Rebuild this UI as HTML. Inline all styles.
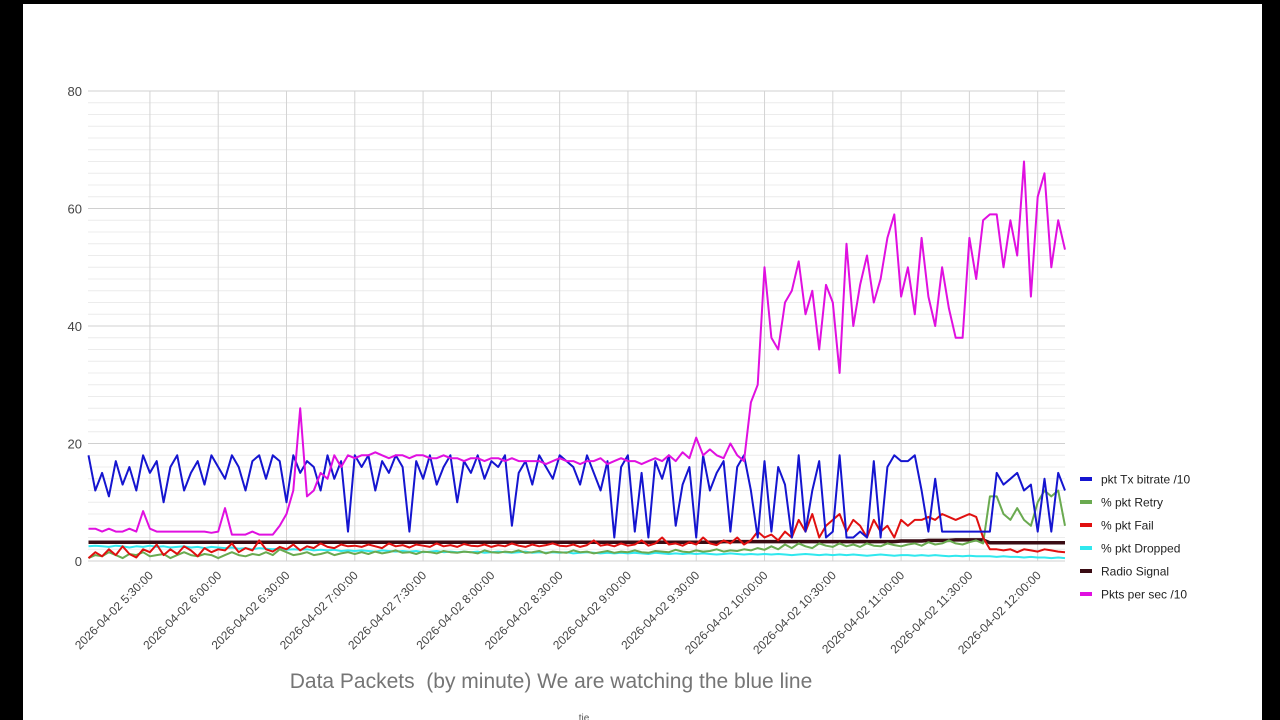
<!DOCTYPE html>
<html><head><meta charset="utf-8"><style>
html,body{margin:0;padding:0;background:#000;}
#wrap{position:relative;width:1280px;height:720px;overflow:hidden;background:#000;}
#page{position:absolute;left:23px;top:4px;width:1239px;height:716px;background:#fff;}
svg{position:absolute;left:0;top:0;}
text{font-family:"Liberation Sans",Arial,sans-serif;}
</style></head><body>
<div id="wrap">
<div id="page"></div>
<svg id="chart" width="1280" height="720"></svg>
</div>
<script>
const yTicks=[0,20,40,60,80];
const xTickLabels=["2026-04-02 5:30:00","2026-04-02 6:00:00","2026-04-02 6:30:00","2026-04-02 7:00:00","2026-04-02 7:30:00","2026-04-02 8:00:00","2026-04-02 8:30:00","2026-04-02 9:00:00","2026-04-02 9:30:00","2026-04-02 10:00:00","2026-04-02 10:30:00","2026-04-02 11:00:00","2026-04-02 11:30:00","2026-04-02 12:00:00"];
const xTickMinutes=[30,60,90,120,150,180,210,240,270,300,330,360,390,420];
const seriesNames=["pkt Tx bitrate /10","% pkt Retry","% pkt Fail","% pkt Dropped","Radio Signal","Pkts per sec /10"];
const txBitrate=[18,12,15,11,17,13,16,12,18,15,17,10,16,18,12,15,17,13,18,16,
14,18,16,12,17,18,14,18,17,10,18,15,17,16,12,18,14,17,5,18,
16,18,12,17,15,18,16,5,17,14,18,13,16,18,10,17,15,18,14,17,
16,18,6,15,17,13,18,16,14,18,17,16,13,18,15,12,17,4,16,18,
5,15,4,17,14,18,6,13,16,4,18,12,15,17,5,16,18,12,4,17,
5,16,13,4,18,5,12,17,4,5,18,4,4,5,4,17,4,16,18,17,
17,18,12,5,14,5,5,5,5,5,5,5,5,15,13,14,15,12,13,5,14,5,15,12];
const pktRetry=[0.5,1,0.8,1.5,1,0.5,1.2,1,1.5,0.8,1,1.2,0.5,1,1.5,1,0.8,1.2,1,0.5,
1,1.5,1,0.8,1.2,1,1.5,1,2,1.5,1,1.2,1.5,1,1.2,1.5,1,1.3,1.5,1.2,
1.5,1.2,1.6,1.3,1.5,1.8,1.4,1.5,1.2,1.6,1.5,1.3,1.7,1.5,1.4,1.6,1.5,1.3,1.8,1.5,
1.4,1.6,1.5,1.8,1.4,1.5,1.7,1.3,1.6,1.5,1.4,1.8,1.5,1.6,1.3,1.5,1.7,1.4,1.6,1.5,
1.8,1.5,1.4,1.7,1.6,1.5,1.9,1.6,1.5,1.8,1.6,1.7,2,1.6,1.8,1.7,2,1.8,2.2,1.9,
2.5,2,2.8,2.2,3,2.5,2.2,3,2.6,2.4,3,2.5,2.8,2.4,3,2.6,2.5,3,2.7,2.5,
2.8,3,2.6,3.2,2.8,3,3.5,3,2.8,3.2,3.5,3,11,11,8,7,9,7,6,10,12,11,12,6];
const pktFail=[0.5,1.5,0.8,2,1,2.5,1.2,0.6,2,1.5,2.8,1,2,1.2,2.5,1.8,0.8,2.2,1.5,2,
1.8,3,1.5,2.2,1.8,3.5,2,1.6,2.4,2,2.8,1.8,2.5,2.2,3,2.4,2.2,2.8,2.5,2.6,
2.4,2.8,2.5,2.2,3,2.5,2.7,2.3,2.8,2.6,2.4,3,2.5,2.7,2.4,2.9,2.6,2.5,2.8,2.4,
2.7,2.5,3,2.6,2.4,2.8,2.5,2.7,3,2.6,2.5,2.8,2.4,2.7,3.5,2.6,2.8,2.5,3,2.6,
2.8,3.5,2.6,3,4,2.8,3,2.6,3.2,2.8,4,3,2.7,3.5,3,4,2.8,3.5,5,4,
4.5,3.5,5,4,7,5,8,4,6,7,8,5,7,6,4,7,5,6,4,7,
6,7,7,7.5,7,8,7.5,7,7.5,8,7.5,4,2,2,1.8,2,1.5,2,1.8,1.6,2,1.8,1.6,1.5];
const pktDropped=[2.5,2.6,2.5,2.4,2.6,2.5,2.3,2.5,2.4,2.6,2.4,2.5,2.3,2.4,2.5,2.3,2.4,2.2,2.4,2.3,
2.2,2.3,2.1,2.2,2,2.2,2.1,2,2.1,1.9,2,1.9,2,1.8,1.9,1.8,1.9,1.7,1.8,1.7,
1.8,1.7,1.6,1.8,1.7,1.6,1.7,1.6,1.7,1.5,1.6,1.7,1.5,1.6,1.5,1.6,1.5,1.6,1.4,1.5,
1.6,1.5,1.4,1.5,1.6,1.4,1.5,1.4,1.5,1.4,1.5,1.3,1.4,1.5,1.4,1.3,1.4,1.3,1.4,1.3,
1.4,1.3,1.2,1.4,1.3,1.2,1.3,1.2,1.3,1.2,1.3,1.2,1.1,1.2,1.3,1.2,1.1,1.2,1.1,1.2,
1.1,1.2,1.1,1,1.1,1.2,1.1,1,1.1,1,1.1,1,1.1,1,0.9,1,1.1,1,0.9,1,
1,0.9,1,0.9,1,0.9,0.8,0.9,0.8,0.9,0.8,0.8,0.8,0.7,0.8,0.7,0.7,0.6,0.7,0.6,0.6,0.5,0.6,0.5];
const radioSignal=[3.2,3.2,3.2,3.2,3.2,3.2,3.2,3.2,3.2,3.2,3.2,3.2,3.2,3.2,3.2,3.2,3.2,3.2,3.2,3.2,
3.2,3.2,3.2,3.2,3.2,3.2,3.2,3.2,3.2,3.2,3.2,3.2,3.2,3.2,3.2,3.2,3.2,3.2,3.2,3.2,
3.2,3.2,3.2,3.2,3.2,3.2,3.2,3.2,3.2,3.2,3.2,3.2,3.2,3.2,3.2,3.2,3.2,3.2,3.2,3.2,
3.2,3.2,3.2,3.2,3.2,3.2,3.2,3.2,3.2,3.2,3.2,3.2,3.2,3.2,3.2,3.2,3.2,3.2,3.2,3.2,
3.2,3.2,3.2,3.2,3.2,3.2,3.2,3.2,3.2,3.2,3.2,3.2,3.2,3.3,3.3,3.3,3.3,3.3,3.3,3.3,
3.3,3.3,3.3,3.3,3.3,3.3,3.3,3.3,3.3,3.3,3.3,3.3,3.3,3.3,3.3,3.3,3.3,3.3,3.3,3.4,
3.4,3.4,3.4,3.5,3.5,3.5,3.5,3.6,3.6,3.6,3.6,3.6,3.1,3.1,3.1,3.1,3.1,3.1,3.1,3.1,3.1,3.1,3.1,3.1];
const pktsPerSec=[5.5,5.5,5,5.5,5,5,5.5,5,8.5,5.5,5,5,5,5,5,5,5,5,4.8,5,
9,4.5,4.5,4.5,5,4.5,4.5,4.5,6,8,12,26,11,12,15,14,18,16,18,17.5,
18,18,18.5,18,17.5,18,18,17.5,18,18,17.5,17.5,18,17.5,17.5,17,17.5,17.5,17,17.5,
17.5,17,17.5,17,17,17,17,16.5,17,17.5,17,17,16.5,17,17,17.5,16.5,17,17.5,17,
17,16.5,17,17.5,17,18,17,18.5,17.5,21,18,19,18,17.5,20,18,17,27,30,50,
38,36,44,46,51,42,46,36,47,44,32,54,40,47,52,44,48,55,59,45,
50,42,55,45,40,50,43,38,38,55,48,58,59,59,50,58,52,68,45,62,66,50,58,53];
const seriesData=[txBitrate,pktRetry,pktFail,pktDropped,radioSignal,pktsPerSec];
const colors=["#1515d0","#6aaa50","#e01010","#30e8ee","#3a0c14","#e010e0"];
const widths=[2,2,2,2,3.5,2];

const NS="http://www.w3.org/2000/svg";
const svg=document.getElementById('chart');
const L=88,R=1065,T=91,B=561;
const t0=2.8,t1=432;
function xs(m){return L+(m-t0)*(R-L)/(t1-t0);}
function ys(v){return B-v*(B-T)/80;}
function el(tag,attrs){const e=document.createElementNS(NS,tag);for(const k in attrs)e.setAttribute(k,attrs[k]);svg.appendChild(e);return e;}

for(let v=0;v<=80;v+=2){
  const g=el('line',{x1:L,x2:R,y1:ys(v),y2:ys(v),stroke:v%20===0?'#d0d0d0':'#ececec','stroke-width':1});
  
  
}
xTickMinutes.forEach((m,i)=>{
  const g=el('line',{x1:xs(m),x2:xs(m),y1:T,y2:B,stroke:'#d4d4d4','stroke-width':1});
  
  
  const ax=xs(m)+4, ay=576;
  const t=el('text',{x:ax,y:ay,'text-anchor':'end','font-size':12,fill:'#444',transform:`rotate(-45 ${ax} ${ay})`});
  t.textContent=xTickLabels[i];
  
  
});
yTicks.forEach(v=>{
  const t=el('text',{x:82,y:ys(v)+5,'text-anchor':'end','font-size':13,fill:'#444'});
  t.textContent=v;
  
  
});
const order=[4,3,1,2,0,5];
order.forEach(s=>{
  const arr=seriesData[s];
  const pts=arr.map((v,i)=>xs(3+3*i).toFixed(1)+','+ys(v).toFixed(1)).join(' ');
  const p=el('polyline',{points:pts,fill:'none',stroke:colors[s],'stroke-width':widths[s],'stroke-linejoin':'round'});
  
  
});
seriesNames.forEach((n,i)=>{
  const y=479+i*23;
  const r=el('rect',{x:1080,y:y-2,width:12,height:4,fill:colors[i]});
  
  
  const t=el('text',{x:1101,y:y+4.5,'font-size':12,fill:'#222'});
  t.textContent=n;
  
  
});
const title=el('text',{x:551,y:688,'text-anchor':'middle','font-size':21,fill:'#757575'});
title.textContent='Data Packets  (by minute) We are watching the blue line';


title.style.whiteSpace='pre';
const tie=el('text',{x:584,y:721,'text-anchor':'middle','font-size':10,fill:'#555'});
tie.textContent='tie';


</script>
</body></html>
